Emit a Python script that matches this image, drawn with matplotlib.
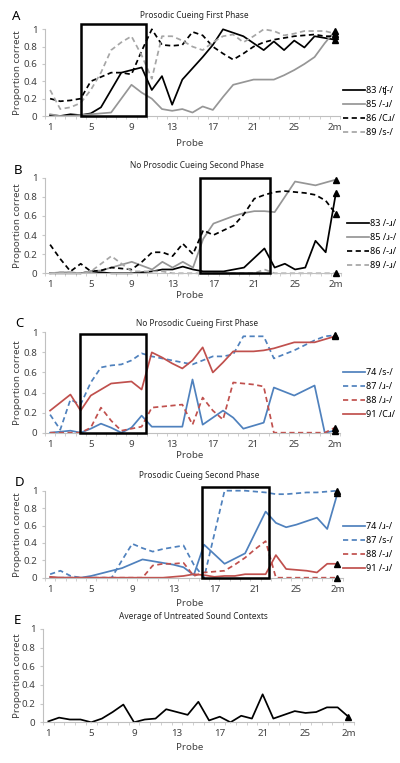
import numpy as np
import matplotlib
matplotlib.use("Agg")
from matplotlib import pyplot as plt
from matplotlib.patches import Rectangle

plt.rcParams['font.family'] = ['Noto Sans', 'DejaVu Sans']

# probes 1..28 plus the 2 month follow-up
probe_ticks = [1, 5, 9, 13, 17, 21, 25, 29]
probe_tick_labels = ['1', '5', '9', '13', '17', '21', '25', '2m']

# Panel A - Prosodic Cueing First Phase
a_83 = [0.01, 0, 0.02, 0.01, 0.03, 0.1, 0.3, 0.5, 0.53, 0.56, 0.3, 0.46, 0.13, 0.42, 0.55,
        0.68, 0.82, 1.0, 0.96, 0.92, 0.84, 0.76, 0.86, 0.76, 0.87, 0.79, 0.92, 0.9, 0.88]
a_85 = [0.02, 0, 0, 0.01, 0.02, 0.03, 0.04, 0.2, 0.36, 0.27, 0.2, 0.08, 0.06, 0.08, 0.04,
        0.11, 0.07, 0.22, 0.36, 0.39, 0.42, 0.42, 0.42, 0.47, 0.53, 0.6, 0.68, 0.84, 0.98]
a_86 = [0.2, 0.17, 0.18, 0.2, 0.4, 0.45, 0.5, 0.5, 0.48, 0.75, 1.0, 0.82, 0.81, 0.82, 0.97,
        0.93, 0.8, 0.72, 0.65, 0.72, 0.8, 0.85, 0.88, 0.9, 0.92, 0.93, 0.94, 0.92, 0.92]
a_89 = [0.3, 0.08, 0.1, 0.15, 0.3, 0.5, 0.76, 0.85, 0.92, 0.7, 0.43, 0.92, 0.92, 0.87, 0.8,
        0.76, 0.85, 0.92, 0.94, 0.85, 0.92, 1.0, 0.98, 0.93, 0.95, 0.98, 0.98, 0.98, 0.95]
a_labels = ['83 /ʧ-/', '85 /-ɹ/', '86 /Cɹ/', '89 /s-/']

# Panel B - No Prosodic Cueing Second Phase
b_83 = [0, 0, 0, 0, 0.02, 0.01, 0, 0, 0, 0.01, 0.02, 0.04, 0.04, 0.07, 0.04,
        0.02, 0.02, 0.02, 0.04, 0.06, 0.16, 0.26, 0.06, 0.1, 0.04, 0.06, 0.34, 0.22, 0.84]
b_85 = [0, 0.01, 0.01, 0, 0.02, 0.03, 0.06, 0.09, 0.12, 0.08, 0.04, 0.12, 0.06, 0.12, 0.06,
        0.36, 0.52, 0.56, 0.6, 0.63, 0.65, 0.65, 0.64, 0.8, 0.96, 0.94, 0.92, 0.95, 0.98]
b_86 = [0.3, 0.15, 0.02, 0.1, 0.02, 0.03, 0.06, 0.05, 0.04, 0.12, 0.22, 0.22, 0.18, 0.31, 0.2,
        0.45, 0.4, 0.45, 0.5, 0.62, 0.78, 0.82, 0.85, 0.86, 0.85, 0.84, 0.82, 0.76, 0.62]
b_89 = [0, 0.01, 0.01, 0, 0.02, 0.1, 0.18, 0.1, 0.02, 0.02, 0.02, 0.02, 0, 0, 0,
        0, 0, 0, 0, 0, 0, 0.04, 0, 0, 0, 0, 0, 0, 0]
b_labels = ['83 /-ɹ/', '85 /ɹ-/', '86 /-ɹ/', '89 /-ɹ/']

# Panel C - No Prosodic Cueing First Phase
c_74 = [0, 0.01, 0.02, 0, 0.04, 0.09, 0.05, 0, 0.05, 0.17, 0.06, 0.06, 0.06, 0.06, 0.53,
        0.08, 0.15, 0.22, 0.15, 0.04, 0.07, 0.1, 0.45, 0.41, 0.37, 0.42, 0.47, 0, 0.02]
c_87 = [0.18, 0.03, 0.33, 0.28, 0.5, 0.65, 0.67, 0.68, 0.72, 0.79, 0.76, 0.74, 0.72, 0.7, 0.68,
        0.72, 0.76, 0.76, 0.78, 0.96, 0.96, 0.96, 0.74, 0.78, 0.82, 0.87, 0.92, 0.96, 0.97]
c_88 = [0, 0, 0, 0, 0.05, 0.25, 0.12, 0.02, 0.04, 0.06, 0.25, 0.26, 0.27, 0.28, 0.08,
        0.35, 0.22, 0.13, 0.5, 0.49, 0.48, 0.46, 0, 0, 0, 0, 0, 0, 0.05]
c_91 = [0.22, 0.3, 0.38, 0.22, 0.37, 0.43, 0.49, 0.5, 0.51, 0.43, 0.8, 0.75, 0.69, 0.64, 0.72,
        0.85, 0.6, 0.7, 0.81, 0.81, 0.81, 0.82, 0.84, 0.87, 0.9, 0.9, 0.9, 0.93, 0.96]
c_labels = ['74 /s-/', '87 /ɹ-/', '88 /ɹ-/', '91 /Cɹ/']

# Panel D - Prosodic Cueing Second Phase
d_74 = [0, 0, 0, 0, 0.02, 0.05, 0.08, 0.11, 0.16, 0.21, 0.19, 0.17, 0.15, 0.12, 0.03,
        0.38, 0.27, 0.16, 0.22, 0.28, 0.52, 0.76, 0.63, 0.58, 0.61, 0.65, 0.69, 0.56, 0.97]
d_87 = [0.04, 0.08, 0.02, 0, 0, 0, 0, 0.2, 0.39, 0.34, 0.3, 0.33, 0.35, 0.37, 0.15,
        0, 0.5, 1.0, 1.0, 1.0, 0.99, 0.98, 0.96, 0.96, 0.97, 0.98, 0.98, 0.99, 1.0]
d_88 = [0, 0, 0, 0, 0, 0, 0, 0, 0, 0, 0.14, 0.16, 0.16, 0.17, 0.02,
        0.06, 0.07, 0.08, 0.15, 0.23, 0.33, 0.42, 0, 0, 0, 0, 0, 0, 0]
d_91 = [0.01, 0, 0, 0, 0, 0, 0, 0, 0, 0, 0, 0, 0.01, 0.02, 0.04,
        0.03, 0.01, 0.02, 0.02, 0.04, 0.04, 0.04, 0.26, 0.1, 0.09, 0.08, 0.06, 0.16, 0.16]
d_labels = ['74 /ɹ-/', '87 /s-/', '88 /-ɹ/', '91 /-ɹ/']

# Panel E - Average of Untreated Sound Contexts
e_avg = [0.01, 0.05, 0.03, 0.03, 0, 0.04, 0.11, 0.19, 0, 0.03, 0.04, 0.14, 0.11, 0.08, 0.22,
         0.02, 0.06, 0, 0.07, 0.04, 0.3, 0.04, 0.08, 0.12, 0.1, 0.11, 0.16, 0.16, 0.06]

BLACK = '#000000'
GRAY = '#969696'
LGRAY = '#a6a6a6'
BLUE = '#4f81bd'
RED = '#c0504d'
DASH = (0, (3, 2))

W, H = 400, 763
fig = plt.figure(figsize=(W / 100, H / 100), dpi=100)


def px_axes(left, right, top, bottom):
    # pixel box -> figure fraction
    return fig.add_axes([left / W, 1 - bottom / H, (right - left) / W, (bottom - top) / H])


def style_axes(ax):
    ax.set_xlim(0.5, 29.5)
    ax.set_ylim(0, 1)
    ax.set_yticks([0, 0.2, 0.4, 0.6, 0.8, 1])
    ax.set_yticklabels(['0', '0.2', '0.4', '0.6', '0.8', '1'])
    ax.set_xticks(probe_ticks)
    ax.set_xticklabels(probe_tick_labels)
    ax.set_xticks(np.arange(0.5, 30, 1), minor=True)
    ax.tick_params(axis='x', which='major', length=0, labelsize=7, colors='#404040', pad=5)
    ax.tick_params(axis='x', which='minor', length=2.5, color='#c8c8c8')
    ax.tick_params(axis='y', length=2.5, color='#c8c8c8', labelsize=7, labelcolor='#404040', pad=3)
    for s in ['top', 'right']:
        ax.spines[s].set_visible(False)
    for s in ['left', 'bottom']:
        ax.spines[s].set_color('#c0c0c0')
        ax.spines[s].set_linewidth(0.8)
    ax.patch.set_alpha(0)


def add_series(ax, vals, color, ls, label):
    x = np.arange(1, len(vals) + 1)
    ax.plot(x, vals, color=color, linestyle=ls, lw=1.25, label=label, clip_on=False)
    ax.plot(x[-1], vals[-1], marker='^', color='black', ms=4, clip_on=False, zorder=5)


def add_box(ax, x0, x1, top):
    ax.add_patch(Rectangle((x0, 0), x1 - x0, top, fill=False, lw=1.8,
                           edgecolor='black', clip_on=False, zorder=6))


def decorate(ax, letter, title, letter_xy, title_xy, probe_y, ylabel_x=18):
    fig.text(letter_xy[0] / W, 1 - letter_xy[1] / H, letter, fontsize=9.5,
             ha='center', va='center')
    fig.text(title_xy[0] / W, 1 - title_xy[1] / H, title, fontsize=6,
             ha='center', va='center', color='#262626')
    fig.text(190 / W, 1 - probe_y / H, 'Probe', fontsize=7,
             ha='center', va='center', color='#404040')
    pos = ax.get_position()
    fig.text(ylabel_x / W, pos.y0 + pos.height / 2, 'Proportion correct', fontsize=7,
             rotation=90, ha='center', va='center', color='#404040')


def add_legend(ax, x_px, y_px):
    ax.legend(loc='center left', bbox_to_anchor=(x_px / W, 1 - y_px / H),
              bbox_transform=fig.transFigure, frameon=False, fontsize=6.5,
              handlelength=2.4, handletextpad=0.2, labelspacing=0.55,
              borderpad=0, borderaxespad=0)


# A
axA = px_axes(45, 340, 29.3, 116)
style_axes(axA)
add_series(axA, a_83, BLACK, '-', a_labels[0])
add_series(axA, a_85, GRAY, '-', a_labels[1])
add_series(axA, a_86, BLACK, DASH, a_labels[2])
add_series(axA, a_89, LGRAY, DASH, a_labels[3])
add_box(axA, 4.06, 10.44, 1.06)
add_legend(axA, 343, 111.4)
decorate(axA, 'A', 'Prosodic Cueing First Phase', (16, 16), (194, 15), 143)

# B
axB = px_axes(45, 341, 177.7, 273.3)
style_axes(axB)
add_series(axB, b_83, BLACK, '-', b_labels[0])
add_series(axB, b_85, GRAY, '-', b_labels[1])
add_series(axB, b_86, BLACK, DASH, b_labels[2])
add_series(axB, b_89, LGRAY, DASH, b_labels[3])
add_box(axB, 15.64, 22.5, 1.0)
add_legend(axB, 347, 244.3)
decorate(axB, 'B', 'No Prosodic Cueing Second Phase', (18, 170.7), (197, 165), 296)

# C
axC = px_axes(45, 340, 332.3, 432.7)
style_axes(axC)
add_series(axC, c_74, BLUE, '-', c_labels[0])
add_series(axC, c_87, BLUE, DASH, c_labels[1])
add_series(axC, c_88, RED, DASH, c_labels[2])
add_series(axC, c_91, RED, '-', c_labels[3])
add_box(axC, 3.95, 10.44, 0.98)
add_legend(axC, 343, 393.3)
decorate(axC, 'C', 'No Prosodic Cueing First Phase', (19, 324), (197, 323.3), 455)

# D
axD = px_axes(45, 342.6, 490.7, 577.7)
style_axes(axD)
add_series(axD, d_74, BLUE, '-', d_labels[0])
add_series(axD, d_87, BLUE, DASH, d_labels[1])
add_series(axD, d_88, RED, DASH, d_labels[2])
add_series(axD, d_91, RED, '-', d_labels[3])
add_box(axD, 15.84, 22.36, 1.046)
add_legend(axD, 343, 547.8)
decorate(axD, 'D', 'Prosodic Cueing Second Phase', (20, 482.7), (199, 476), 604)

# E
axE = px_axes(43, 353.7, 629, 722.3)
style_axes(axE)
add_series(axE, e_avg, BLACK, '-', 'Average')
decorate(axE, 'E', 'Average of Untreated Sound Contexts', (17, 621), (193, 616.7), 748)

fig.savefig('out.png', dpi=100)
